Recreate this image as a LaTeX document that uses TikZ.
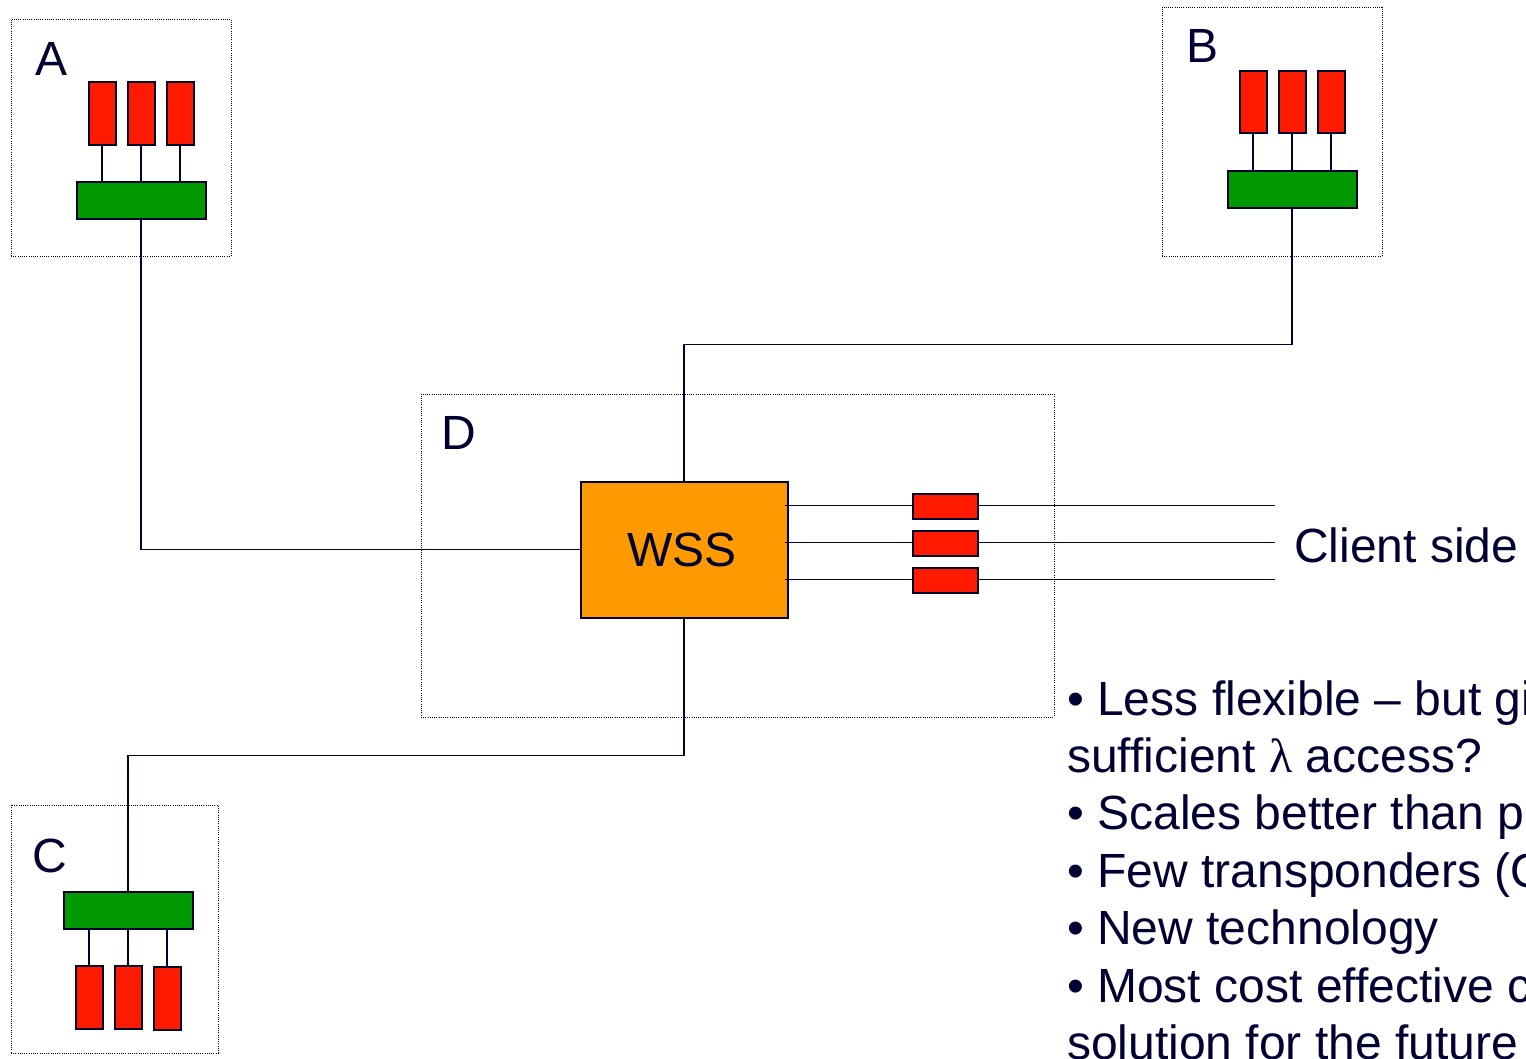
\documentclass[tikz,border=0pt]{standalone}
\usepackage{fontspec}
\setmainfont{Liberation Sans}
\newfontfamily\lamfont{Liberation Serif}
\definecolor{navy}{HTML}{000033}
\definecolor{rbox}{HTML}{FF1A00}
\definecolor{gbox}{HTML}{009900}
\definecolor{obox}{HTML}{FF9900}
\tikzset{
  redbox/.style={draw=navy, line width=2pt, fill=rbox, inner sep=0pt, anchor=north west},
  greenbox/.style={draw=navy, line width=2pt, fill=gbox, inner sep=0pt, anchor=north west, minimum width=129, minimum height=37},
  dotbox/.style={draw=navy, line width=0.9pt, dash pattern=on 1pt off 1.2pt, inner sep=0pt, anchor=north west},
  wire/.style={draw=navy, line width=1.9pt},
  big/.style={font=\fontsize{48}{57}\selectfont, text=navy, inner sep=0pt, anchor=base west},
}
\begin{document}
\begin{tikzpicture}[x=1pt,y=-1pt]
\useasboundingbox (0,0) rectangle (1526,1058);
\clip (0,0) rectangle (1526,1058);
\fill[white] (0,0) rectangle (1526,1058);

% dotted boxes
\node[dotbox, minimum width=220, minimum height=237] (boxA) at (10.5,18.5) {};
\node[dotbox, minimum width=220, minimum height=249] (boxB) at (1161.5,6.5) {};
\node[dotbox, minimum width=633, minimum height=323] (boxD) at (420.5,393.5) {};
\node[dotbox, minimum width=207, minimum height=248] (boxC) at (10.5,804.5) {};

% labels
\node[big] (labA) at (35,75) {A};
\node[big] (labB) at (1186,62) {B};
\node[big] (labD) at (441,449) {D};
\node[big] (labC) at (32,872) {C};

% site A
\node[redbox, minimum width=27, minimum height=63] (a1) at (87.5,80.5) {};
\node[redbox, minimum width=27, minimum height=63] (a2) at (126.5,80.5) {};
\node[redbox, minimum width=27, minimum height=63] (a3) at (165.5,80.5) {};
\node[greenbox] (ag) at (75.5,180.5) {};
\foreach \i in {1,2,3} \draw[wire] (a\i.south) -- (a\i.south |- ag.north);

% site B
\node[redbox, minimum width=27, minimum height=62] (b1) at (1238.5,69.5) {};
\node[redbox, minimum width=27, minimum height=62] (b2) at (1277.5,69.5) {};
\node[redbox, minimum width=27, minimum height=62] (b3) at (1316.5,69.5) {};
\node[greenbox] (bg) at (1226.5,169.5) {};
\foreach \i in {1,2,3} \draw[wire] (b\i.south) -- (b\i.south |- bg.north);

% site C
\node[greenbox] (cg) at (62.5,890.5) {};
\node[redbox, minimum width=27, minimum height=63] (c1) at (74.5,964.5) {};
\node[redbox, minimum width=27, minimum height=63] (c2) at (113.5,964.5) {};
\node[redbox, minimum width=27, minimum height=63] (c3) at (152.5,965.5) {};
\foreach \i in {1,2,3} \draw[wire] (c\i.north) -- (c\i.north |- cg.south);

% WSS
\node[draw=navy, line width=2pt, fill=obox, inner sep=0pt, anchor=north west,
      minimum width=207, minimum height=136] (wss) at (579.5,480.5) {};
\node[font=\fontsize{48}{57}\selectfont, text=navy, inner sep=0pt, anchor=base] (wsst) at (682,566) {WSS};

% transponders in D
\coordinate (o1) at (1275,505.5);
\coordinate (o2) at (1275,542.5);
\coordinate (o3) at (1275,579.5);
\foreach \i in {1,2,3} {
  \draw[wire] ([xshift=-4pt]wss.east |- o\i) -- (o\i);
}
\node[redbox, minimum width=65, minimum height=25] (r1) at (911.5,492.5) {};
\node[redbox, minimum width=65, minimum height=25] (r2) at (911.5,529.5) {};
\node[redbox, minimum width=65, minimum height=25] (r3) at (911.5,566.5) {};

\node[big] (client) at (1294,562) {Client side};

% connectors
\draw[wire] (ag.south) |- (wss.west);
\draw[wire] (bg.south) -- ++(0,136) -| (wss.north);
\draw[wire] (wss.south) -- ++(0,137) -| (cg.north);

% bullet text
\node[big] (t1) at (1067,715) {• Less flexible – but gives};
\node[big] (t2) at (1067,772) {sufficient {\lamfont λ} access?};
\node[big] (t3) at (1067,829) {• Scales better than point};
\node[big] (t4) at (1067,887) {• Few transponders (OEO)};
\node[big] (t5) at (1067,944) {• New technology};
\node[big] (t6) at (1067,1002) {• Most cost effective c};
\node[big] (t7) at (1067,1059) {solution for the future};
\end{tikzpicture}
\end{document}
